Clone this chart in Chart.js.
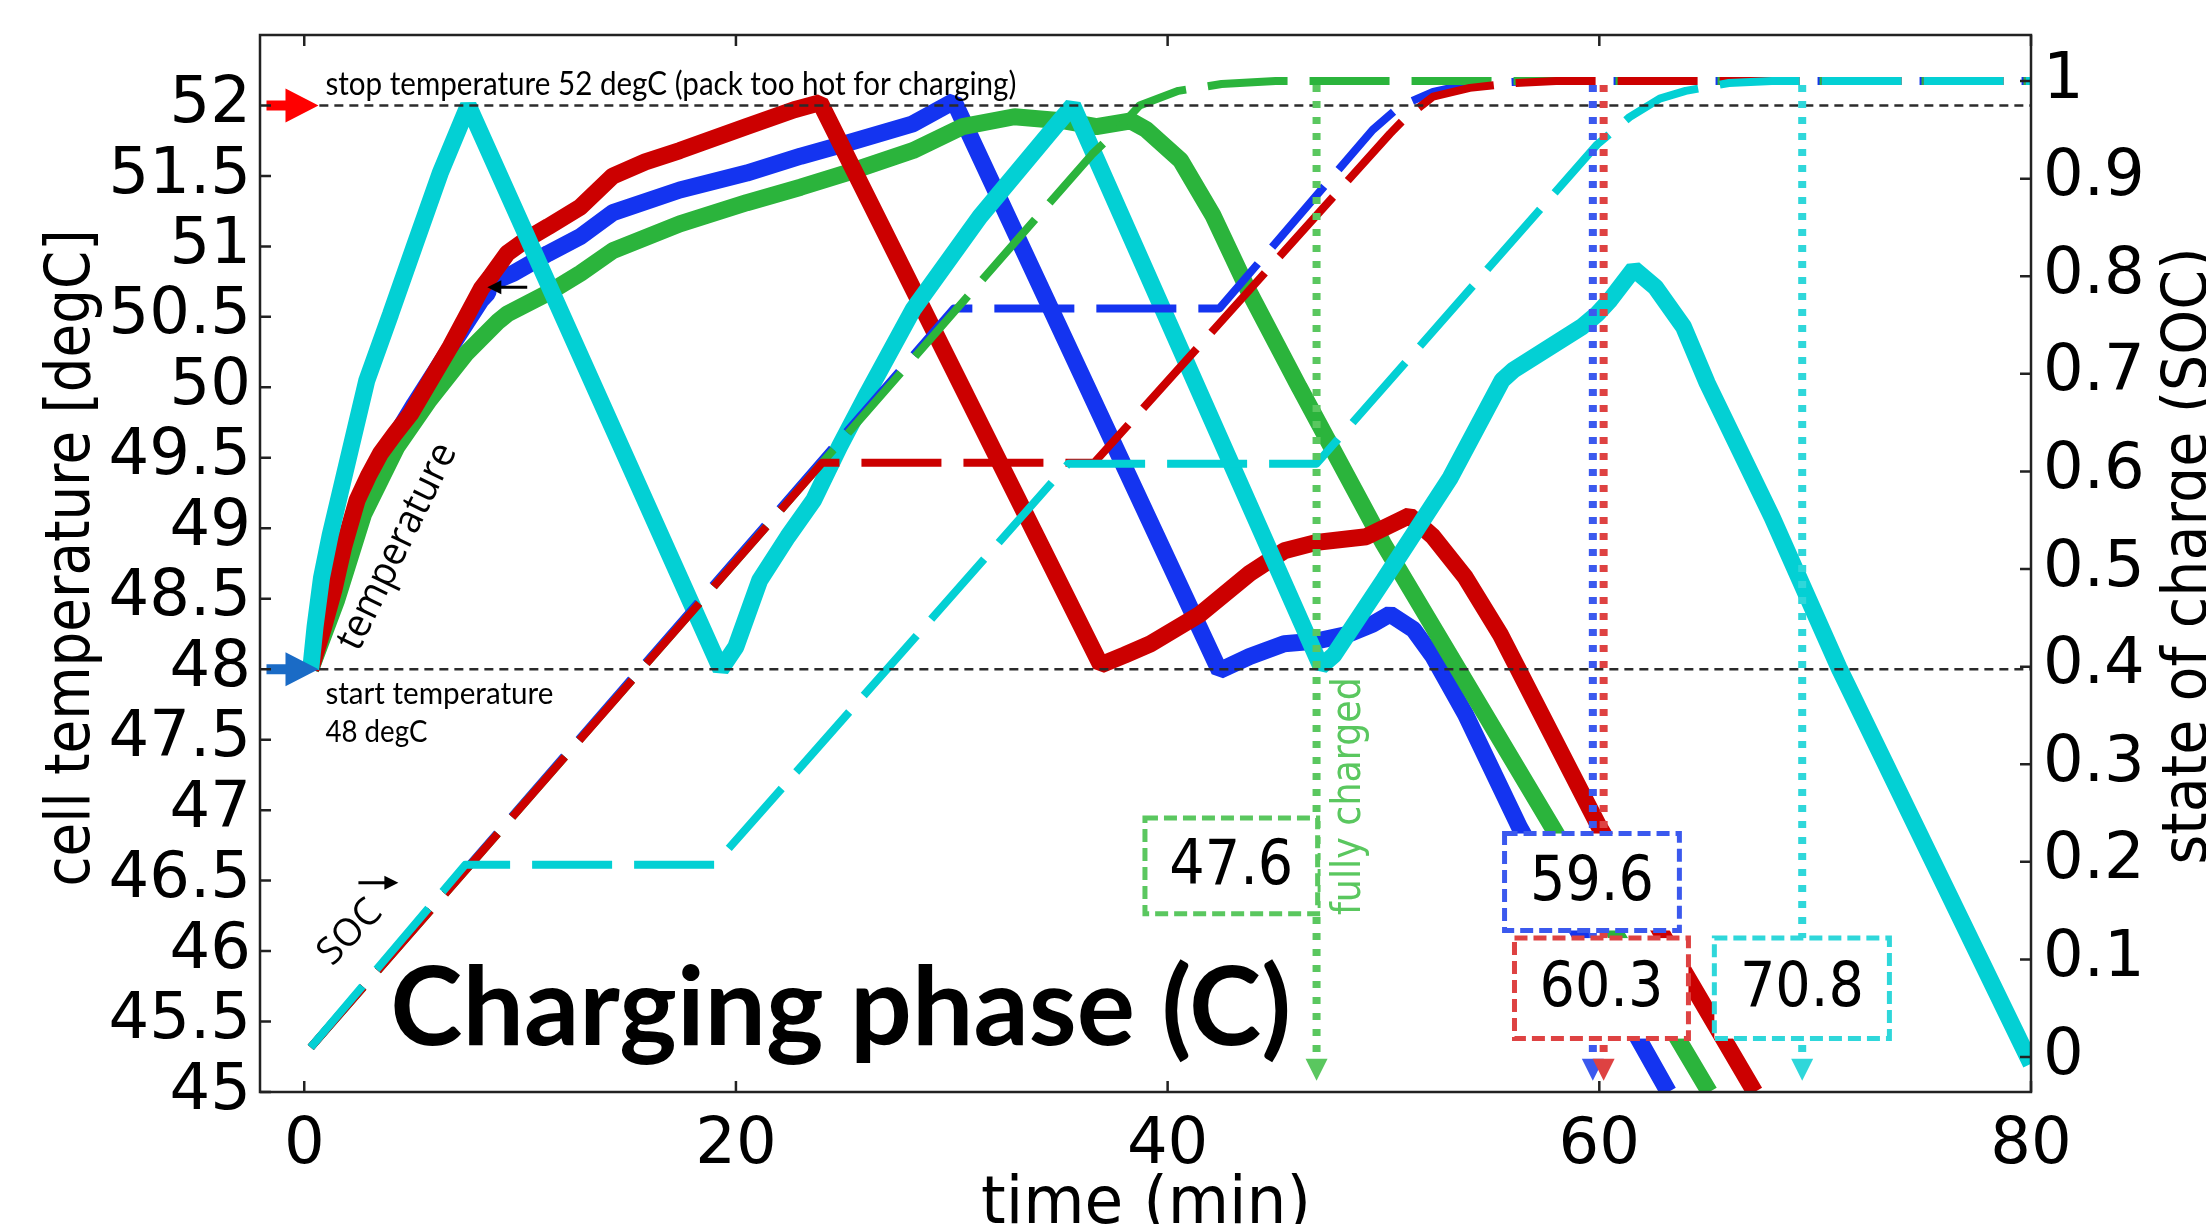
<!DOCTYPE html>
<html>
<head>
<meta charset="utf-8">
<script src="https://cdn.jsdelivr.net/npm/chart.js@4.4.1/dist/chart.umd.min.js"></script>
<style>
  html, body { margin: 0; padding: 0; background: #fff; }
  #wrap { width: 2206px; height: 1224px; position: relative; }
</style>
</head>
<body>
<div id="wrap"><canvas id="myChart"></canvas></div>
<script>
// ---- axis ticks ----
const timeTicks = [0, 20, 40, 60, 80];
const tempTicks = [45, 45.5, 46, 46.5, 47, 47.5, 48, 48.5, 49, 49.5, 50, 50.5, 51, 51.5, 52];
const socTicks = [0, 0.1, 0.2, 0.3, 0.4, 0.5, 0.6, 0.7, 0.8, 0.9, 1];

// ---- cell temperature (degC) ----
const redTempTime = [0.3, 0.9, 1.37, 1.83, 2.45, 3.0, 3.53, 4.2, 4.92, 6.77, 8.2, 8.6, 9.4, 10.3, 11.3, 12.8, 14.3, 15.8, 17.4, 20.5, 22.7, 23.9,
  36.9, 38.0, 39.2, 41.5, 43.8, 45.4, 46.9, 49.2, 50.8, 51.2, 52.3, 53.8, 55.4, 60.0, 67.2];
const redTemp = [48.0, 48.3, 48.56, 48.87, 49.2, 49.38, 49.53, 49.67, 49.81, 50.29, 50.7, 50.78, 50.95, 51.05, 51.14, 51.28, 51.5, 51.6, 51.68, 51.85, 51.97, 52.02,
  48.03, 48.1, 48.18, 48.39, 48.68, 48.84, 48.9, 48.94, 49.06, 49.09, 48.94, 48.65, 48.25, 46.88, 45.0];

const blueTempTime = [0.3, 1.3, 2.2, 3.6, 5.1, 6.6, 8.2, 8.5, 8.6, 9.7, 11.3, 12.8, 14.3, 17.4, 20.5, 23.0, 25.1, 28.2, 30.1,
  42.4, 43.8, 45.4, 46.9, 48.4, 49.5, 50.3, 51.4, 52.3, 53.8, 56.3, 63.2];
const blueTemp = [48.0, 48.45, 49.0, 49.5, 49.88, 50.24, 50.62, 50.67, 50.74, 50.81, 50.95, 51.07, 51.24, 51.4, 51.52, 51.64, 51.73, 51.87, 52.03,
  47.99, 48.09, 48.18, 48.2, 48.25, 48.32, 48.39, 48.28, 48.09, 47.68, 46.88, 45.0];

const greenTempTime = [0.3, 1.5, 2.75, 4.3, 5.8, 7.5, 9.0, 9.4, 11.3, 12.8, 14.3, 17.4, 20.5, 23.0, 25.1, 28.2, 30.5, 32.9, 35.2, 36.7,
  38.3, 39.0, 40.6, 42.1, 43.7, 46.1, 50.0, 57.9, 65.1];
const greenTemp = [48.0, 48.49, 49.1, 49.58, 49.91, 50.24, 50.47, 50.52, 50.67, 50.81, 50.97, 51.16, 51.31, 51.42, 51.52, 51.68, 51.85, 51.92, 51.89, 51.85,
  51.89, 51.83, 51.61, 51.22, 50.7, 50.0, 48.89, 46.86, 45.0];

const cyanTempTime = [0.3, 0.5, 0.8, 1.2, 1.8, 2.9, 4.0, 5.1, 6.3, 7.6, 19.3, 20.0, 21.1, 22.4, 23.6, 24.8, 26.1, 28.2, 31.3, 34.4, 35.6,
  47.1, 47.7, 50.0, 53.1, 55.5, 56.0, 59.2, 59.9, 60.5, 61.6, 62.6, 63.9, 65.0, 68.0, 71.1, 80.0];
const cyanTemp = [48.0, 48.3, 48.65, 48.95, 49.34, 50.05, 50.52, 51.0, 51.52, 52.0, 48.0, 48.16, 48.63, 48.94, 49.2, 49.58, 49.96, 50.55, 51.21, 51.78, 52.0,
  48.02, 48.1, 48.63, 49.36, 50.05, 50.12, 50.43, 50.52, 50.62, 50.84, 50.71, 50.43, 50.03, 49.08, 48.01, 45.2];

// ---- state of charge ----
const redSocTime = [0.3, 24.0, 36.6, 50.3, 51.0, 52.3, 54.0, 56.0, 58.0, 80.0];
const redSoc = [0.01, 0.609, 0.609, 0.946, 0.962, 0.984, 0.993, 0.998, 1.0, 1.0];

const blueSocTime = [0.3, 30.1, 42.4, 49.5, 50.75, 52.3, 54.0, 57.0, 80.0];
const blueSoc = [0.01, 0.767, 0.767, 0.95, 0.974, 0.989, 0.997, 1.0, 1.0];

const greenSocTime = [0.3, 36.5, 37.5, 38.7, 40.5, 42.5, 45.0, 80.0];
const greenSoc = [0.01, 0.925, 0.946, 0.975, 0.99, 0.997, 1.0, 1.0];

const cyanSocTime = [0.3, 7.46, 19.0, 35.4, 46.9, 59.9, 61.4, 62.8, 64.0, 66.0, 68.0, 80.0];
const cyanSoc = [0.01, 0.197, 0.197, 0.608, 0.608, 0.935, 0.963, 0.982, 0.99, 0.998, 1.0, 1.0];

// ---- fully charged markers (min) ----
const markerTimes = [46.9, 59.7, 60.2, 69.4];
const markerLabels = ['47.6', '59.6', '60.3', '70.8'];
const stopTemp = 52;
const startTemp = 48;

const RED = '#cc0000', BLUE = '#1434f0', GREEN = '#2bb43c', CYAN = '#03d0d4';
const markerColors = ['#5ac75f', '#3b59ee', '#de4242', '#2fd7da'];
const SANS = '"DejaVu Sans", sans-serif';

function series(time, vals, color, axis, dashed) {
  return {
    data: time.map((t, i) => ({ x: t, y: vals[i] })),
    borderColor: color,
    yAxisID: axis,
    borderWidth: dashed ? 8 : 17,
    borderDash: dashed ? [80, 22] : [],
    borderJoinStyle: dashed ? 'round' : 'bevel',
    borderCapStyle: 'butt',
    pointRadius: 0,
    tension: 0,
    fill: false
  };
}

function put(ctx, str, x, y, o) {
  ctx.save();
  ctx.translate(x, y);
  ctx.rotate(o.rot || 0);
  ctx.font = o.font;
  ctx.fillStyle = o.color || '#000';
  ctx.textAlign = o.align || 'left';
  ctx.textBaseline = o.base || 'alphabetic';
  if (o.max) ctx.fillText(str, 0, 0, o.max);
  else ctx.fillText(str, 0, 0);
  ctx.restore();
}

// fat arrow pointing right, tip at (x, y)
function blockArrow(ctx, x, y, color) {
  ctx.fillStyle = color;
  ctx.beginPath();
  ctx.moveTo(x, y);
  ctx.lineTo(x - 33, y - 17);
  ctx.lineTo(x - 33, y - 5);
  ctx.lineTo(x - 52, y - 5);
  ctx.lineTo(x - 52, y + 5);
  ctx.lineTo(x - 33, y + 5);
  ctx.lineTo(x - 33, y + 17);
  ctx.closePath();
  ctx.fill();
}

function thinArrow(ctx, x0, x1, y) {
  const dir = Math.sign(x1 - x0);
  ctx.strokeStyle = '#000';
  ctx.fillStyle = '#000';
  ctx.lineWidth = 3;
  ctx.setLineDash([]);
  ctx.beginPath();
  ctx.moveTo(x0, y);
  ctx.lineTo(x1 - dir * 8, y);
  ctx.stroke();
  ctx.beginPath();
  ctx.moveTo(x1, y);
  ctx.lineTo(x1 - dir * 14, y - 7);
  ctx.lineTo(x1 - dir * 14, y + 7);
  ctx.closePath();
  ctx.fill();
}

const overlay = {
  id: 'overlay',
  afterDatasetsDraw(chart) {
    const { ctx, chartArea: a } = chart;
    const px = v => chart.scales.x.getPixelForValue(v);
    const pt = v => chart.scales.yT.getPixelForValue(v);
    const ps = v => chart.scales.yS.getPixelForValue(v);
    ctx.save();

    // stop / start temperature guides
    ctx.strokeStyle = '#2b2b2b';
    ctx.lineWidth = 2.5;
    ctx.setLineDash([9, 6]);
    [stopTemp, startTemp].forEach(v => {
      ctx.beginPath();
      ctx.moveTo(px(0.7), pt(v));
      ctx.lineTo(a.right, pt(v));
      ctx.stroke();
    });
    ctx.setLineDash([]);
    blockArrow(ctx, px(0.66), pt(stopTemp), '#ff0000');
    blockArrow(ctx, px(0.66), pt(startTemp), '#1a6bc6');

    // fully charged markers
    markerTimes.forEach((t, i) => {
      const xx = px(t), top = ps(1) + 4, bot = pt(45.08);
      ctx.strokeStyle = markerColors[i];
      ctx.lineWidth = 8;
      ctx.setLineDash([7, 9]);
      ctx.beginPath();
      ctx.moveTo(xx, top);
      ctx.lineTo(xx, bot - 22);
      ctx.stroke();
      ctx.setLineDash([]);
      ctx.fillStyle = markerColors[i];
      ctx.beginPath();
      ctx.moveTo(xx - 11, bot - 22);
      ctx.lineTo(xx + 11, bot - 22);
      ctx.lineTo(xx, bot);
      ctx.closePath();
      ctx.fill();
    });

    // value boxes (time span, temperature span)
    const boxes = [
      [38.95, 46.95, 46.945, 46.265],
      [55.61, 63.71, 46.834, 46.146],
      [56.07, 64.13, 46.092, 45.379],
      [65.33, 73.44, 46.092, 45.379]
    ];
    boxes.forEach((b, i) => {
      const x0 = px(b[0]), x1 = px(b[1]), y0 = pt(b[2]), y1 = pt(b[3]);
      ctx.fillStyle = '#fff';
      ctx.fillRect(x0, y0, x1 - x0, y1 - y0);
      ctx.strokeStyle = markerColors[i];
      ctx.lineWidth = 5;
      ctx.setLineDash([13, 6]);
      ctx.strokeRect(x0, y0, x1 - x0, y1 - y0);
      ctx.setLineDash([]);
      put(ctx, markerLabels[i], (x0 + x1) / 2, (y0 + y1) / 2 + 2, { font: '62px ' + SANS, align: 'center', base: 'middle', max: 124 });
    });

    put(ctx, 'fully charged', px(48.9), pt(47.10), { font: '40px ' + SANS, color: markerColors[0], align: 'center', rot: -Math.PI / 2, max: 238 });

    // notes
    put(ctx, 'stop temperature 52 degC (pack too hot for charging)', px(0.98), pt(52.075), { font: '32px Lato', max: 691 });
    put(ctx, 'start temperature', px(0.98), pt(47.755), { font: '31px Lato', max: 228 });
    put(ctx, '48 degC', px(0.98), pt(47.48), { font: '31px Lato', max: 102 });
    put(ctx, 'temperature', px(4.32), pt(48.87), { font: '40px "Open Sans"', align: 'center', base: 'middle', rot: -64 * Math.PI / 180, max: 225 });
    put(ctx, 'SOC', px(2.13), pt(46.13), { font: '38px "Open Sans"', align: 'center', base: 'middle', rot: -46 * Math.PI / 180 });
    thinArrow(ctx, px(2.51), px(4.36), pt(46.485));
    thinArrow(ctx, px(10.33), px(8.48), pt(50.71));
    put(ctx, 'Charging phase (C)', px(3.99), pt(45.33), { font: 'bold 109px Lato', max: 905 });

    ctx.restore();
  },
  afterDraw(chart) {
    const { ctx, chartArea: a } = chart;
    const px = v => chart.scales.x.getPixelForValue(v);
    const pt = v => chart.scales.yT.getPixelForValue(v);
    const ps = v => chart.scales.yS.getPixelForValue(v);
    ctx.save();
    ctx.strokeStyle = '#222';
    ctx.lineWidth = 2.5;
    ctx.setLineDash([]);
    ctx.strokeRect(a.left, a.top, a.right - a.left, a.bottom - a.top);
    ctx.beginPath();
    tempTicks.forEach(v => { ctx.moveTo(a.left, pt(v)); ctx.lineTo(a.left + 11, pt(v)); });
    socTicks.forEach(v => { ctx.moveTo(a.right, ps(v)); ctx.lineTo(a.right - 11, ps(v)); });
    timeTicks.forEach(v => {
      ctx.moveTo(px(v), a.bottom); ctx.lineTo(px(v), a.bottom - 11);
      ctx.moveTo(px(v), a.top); ctx.lineTo(px(v), a.top + 11);
    });
    ctx.stroke();

    put(ctx, 'time (min)', 1146, 1223, { font: '66px ' + SANS, align: 'center', max: 330 });
    put(ctx, 'cell temperature [degC]', 89, 558, { font: '62px ' + SANS, align: 'center', rot: -Math.PI / 2, max: 657 });
    put(ctx, 'state of charge (SOC)', 2206, 556, { font: '63px ' + SANS, align: 'center', rot: -Math.PI / 2, max: 617 });
    ctx.restore();
  }
};

const tickFont = { family: SANS, size: 64 };
const noPad = s => { s.paddingTop = 0; s.paddingBottom = 0; s.paddingLeft = 0; s.paddingRight = 0; };

new Chart(document.getElementById('myChart'), {
  type: 'line',
  data: {
    datasets: [
      series(cyanSocTime, cyanSoc, CYAN, 'yS', true),
      series(redSocTime, redSoc, RED, 'yS', true),
      series(greenSocTime, greenSoc, GREEN, 'yS', true),
      series(blueSocTime, blueSoc, BLUE, 'yS', true),
      series(cyanTempTime, cyanTemp, CYAN, 'yT', false),
      series(redTempTime, redTemp, RED, 'yT', false),
      series(greenTempTime, greenTemp, GREEN, 'yT', false),
      series(blueTempTime, blueTemp, BLUE, 'yT', false)
    ]
  },
  options: {
    responsive: true,
    maintainAspectRatio: false,
    animation: false,
    events: [],
    layout: { padding: { top: 35, left: 0, right: 0, bottom: 0 } },
    plugins: { legend: { display: false }, tooltip: { enabled: false } },
    scales: {
      x: {
        type: 'linear',
        min: -2.05,
        max: 80,
        grid: { display: false },
        border: { display: false },
        ticks: { font: tickFont, color: '#000', padding: 8, autoSkip: false, maxRotation: 0, callback: v => String(v) },
        afterBuildTicks: s => { s.ticks = timeTicks.map(v => ({ value: v })); },
        afterFit: s => { s.height = 132; noPad(s); }
      },
      yT: {
        type: 'linear',
        position: 'left',
        min: 45,
        max: 52.5,
        grid: { display: false },
        border: { display: false },
        ticks: { font: tickFont, color: '#000', padding: 1, autoSkip: false, callback: v => String(v) },
        afterBuildTicks: s => { s.ticks = tempTicks.map(v => ({ value: v })); },
        afterFit: s => { s.width = 260; noPad(s); }
      },
      yS: {
        type: 'linear',
        position: 'right',
        min: -0.0358,
        max: 1.0472,
        grid: { display: false },
        border: { display: false },
        ticks: { font: tickFont, color: '#000', padding: 4, autoSkip: false, callback: v => String(v) },
        afterBuildTicks: s => { s.ticks = socTicks.map(v => ({ value: v })); },
        afterFit: s => { s.width = 175; noPad(s); }
      }
    }
  },
  plugins: [overlay]
});
</script>
</body>
</html>
